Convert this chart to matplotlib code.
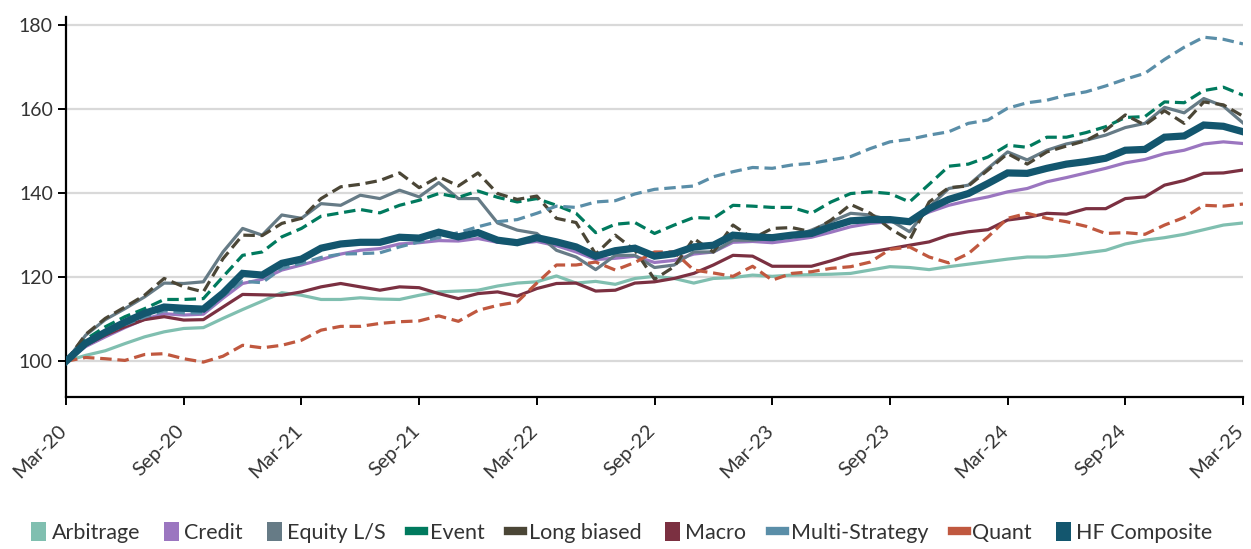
import matplotlib.pyplot as plt
import matplotlib.transforms as mtransforms
import numpy as np
import pandas as pd
from matplotlib.patches import Patch
from matplotlib.lines import Line2D

plt.rcParams['font.family'] = ['Lato', 'DejaVu Sans']

# monthly index levels, Mar-20 = 100
months = pd.date_range('2020-03-01', periods=61, freq='MS')

arbitrage = [100, 101.4, 102.5, 104.2, 105.8, 107.0, 107.8, 108.0, 110.2, 112.3, 114.3, 116.3, 115.7, 114.7, 114.7,
             115.1, 114.8, 114.7, 115.7, 116.5, 116.7, 116.9, 117.9, 118.6, 118.9, 120.3, 118.6, 119.0, 118.3, 119.7,
             120.2, 119.7, 118.6, 119.7, 119.9, 120.5, 120.2, 120.5, 120.6, 120.7, 120.9, 121.7, 122.5, 122.3, 121.8,
             122.5, 123.1, 123.7, 124.3, 124.8, 124.8, 125.2, 125.8, 126.4, 127.9, 128.8, 129.4, 130.2, 131.3, 132.4,
             132.9]
credit = [100, 103.5, 105.8, 108.0, 110.0, 111.3, 111.0, 111.2, 115.0, 118.5, 119.5, 121.7, 122.9, 124.2, 125.5,
          126.4, 126.8, 127.9, 128.2, 128.7, 128.6, 129.2, 128.3, 128.0, 128.5, 127.5, 126.0, 124.2, 124.5, 125.0,
          123.5, 124.0, 125.5, 126.0, 128.3, 128.5, 128.2, 128.8, 129.5, 130.7, 132.0, 132.8, 133.2, 133.6, 135.5,
          137.1, 138.2, 139.1, 140.3, 141.1, 142.7, 143.7, 144.8, 145.9, 147.2, 148.0, 149.4, 150.2, 151.7, 152.2,
          151.8]
equity_ls = [100, 106.2, 109.9, 112.5, 115.3, 118.6, 118.5, 118.9, 126.0, 131.6, 130.0, 134.8, 134.0, 137.5, 137.1,
             139.5, 138.7, 140.7, 139.1, 142.5, 138.7, 138.7, 132.9, 131.2, 130.4, 126.4, 124.8, 121.8, 125.2, 125.2,
             122.3, 122.9, 126.0, 126.0, 128.8, 128.8, 129.2, 129.6, 131.2, 133.2, 135.2, 134.8, 133.6, 130.8, 136.7,
             141.1, 141.9, 145.9, 149.8, 147.9, 150.2, 151.7, 152.6, 153.8, 155.6, 156.6, 160.4, 159.1, 162.5, 160.7,
             156.7]
event = [100, 105.2, 108.2, 110.6, 112.5, 114.7, 114.7, 114.9, 120.1, 125.2, 126.0, 129.6, 131.6, 134.5, 135.3,
         136.1, 135.3, 137.1, 138.3, 139.9, 139.0, 140.5, 139.0, 137.9, 138.7, 137.1, 135.2, 130.6, 132.6, 133.0,
         130.4, 132.4, 134.2, 134.0, 137.1, 136.9, 136.6, 136.6, 135.2, 137.9, 139.9, 140.3, 139.9, 137.9, 142.1,
         146.4, 146.9, 148.6, 151.4, 150.9, 153.3, 153.3, 154.4, 155.8, 158.0, 158.2, 161.7, 161.5, 164.4, 165.2,
         163.3]
long_biased = [100, 106.4, 110.2, 112.9, 115.7, 119.7, 117.7, 116.5, 124.4, 130.0, 129.9, 132.8, 134.0, 138.7, 141.5,
               142.1, 143.0, 144.8, 141.3, 143.9, 141.7, 144.8, 139.9, 138.5, 139.3, 134.0, 133.0, 125.5, 130.0, 126.4,
               119.5, 122.5, 129.2, 126.0, 132.4, 129.2, 131.6, 131.8, 130.8, 133.6, 137.3, 135.2, 131.6, 128.8, 137.9,
               141.3, 141.7, 145.5, 149.4, 146.9, 149.8, 151.2, 152.5, 155.0, 158.6, 156.2, 159.6, 156.6, 161.7, 161.0,
               158.3]
macro = [100, 103.8, 106.2, 108.2, 109.9, 110.6, 109.8, 109.9, 112.9, 115.9, 115.8, 115.7, 116.5, 117.7, 118.5,
         117.7, 116.9, 117.7, 117.5, 116.1, 114.9, 116.1, 116.5, 115.5, 117.3, 118.5, 118.6, 116.7, 116.9, 118.6,
         118.9, 119.7, 120.9, 122.9, 125.2, 125.0, 122.6, 122.6, 122.6, 123.9, 125.4, 126.0, 126.8, 127.6, 128.4,
         130.0, 130.8, 131.3, 133.6, 134.2, 135.2, 135.0, 136.3, 136.3, 138.7, 139.1, 141.9, 143.0, 144.7, 144.8,
         145.5]
multi_strategy = [100, 104.0, 106.5, 108.7, 110.5, 112.0, 111.5, 111.5, 115.5, 119.0, 118.7, 122.1, 123.3, 124.7, 125.5,
                  125.6, 125.8, 127.2, 128.4, 129.4, 130.6, 132.0, 133.2, 133.7, 135.2, 136.9, 136.6, 137.9, 138.2, 139.8,
                  140.9, 141.3, 141.7, 143.9, 145.1, 146.1, 145.9, 146.7, 147.1, 147.9, 148.7, 150.6, 152.2, 152.8, 153.8,
                  154.6, 156.6, 157.4, 160.2, 161.5, 162.1, 163.3, 164.1, 165.5, 167.1, 168.5, 171.8, 174.7, 177.1, 176.6,
                  175.5]
quant = [100, 100.9, 100.6, 100.2, 101.6, 101.8, 100.6, 99.8, 101.2, 103.8, 103.2, 103.8, 105.0, 107.4, 108.3,
         108.3, 109.0, 109.4, 109.6, 110.8, 109.5, 112.1, 113.3, 114.1, 118.6, 122.9, 122.9, 123.6, 121.7, 123.5,
         126.0, 126.0, 121.7, 121.0, 120.2, 122.6, 119.3, 120.9, 121.3, 122.1, 122.5, 123.6, 126.6, 127.2, 124.8,
         123.4, 125.6, 129.6, 134.0, 135.2, 134.0, 133.2, 132.1, 130.4, 130.6, 130.2, 132.4, 134.2, 137.1, 136.9,
         137.4]
hf_composite = [100, 104.3, 106.9, 109.3, 111.4, 112.9, 112.6, 112.4, 116.2, 120.9, 120.5, 123.3, 124.3, 126.9, 127.9,
                128.3, 128.3, 129.5, 129.3, 130.7, 129.6, 130.6, 128.8, 128.2, 129.4, 128.4, 127.2, 125.0, 126.3, 126.9,
                125.0, 125.6, 127.2, 127.6, 130.0, 129.6, 129.4, 130.0, 130.4, 132.0, 133.4, 133.7, 133.7, 133.2, 136.3,
                138.5, 139.9, 142.3, 144.8, 144.7, 145.9, 146.9, 147.5, 148.3, 150.2, 150.4, 153.3, 153.6, 156.2, 155.9,
                154.6]

series = [
    ('Arbitrage', arbitrage, '#80bfb0', '-'),
    ('Credit', credit, '#9b76c0', '-'),
    ('Equity L/S', equity_ls, '#667b86', '-'),
    ('Event', event, '#007a5e', '--'),
    ('Long biased', long_biased, '#4b4636', '--'),
    ('Macro', macro, '#7b3041', '-'),
    ('Multi-Strategy', multi_strategy, '#5a8ea8', '--'),
    ('Quant', quant, '#c0583f', '--'),
    ('HF Composite', hf_composite, '#13566e', '-'),
]

fig = plt.figure(figsize=(12.51, 5.49), dpi=100)
ax = fig.add_axes([0.0528, 0.2769, 0.9408, 0.6929])

x = np.arange(len(months))
handles = []
for name, vals, col, ls in series:
    if name == 'HF Composite':
        ax.plot(x, vals, color=col, lw=5.2, solid_joinstyle='miter', zorder=5)
        handles.append(Patch(facecolor=col, label=name))
    elif ls == '--':
        ax.plot(x, vals, color=col, lw=2.3, dashes=(3.6, 1.8), zorder=3)
        handles.append(Line2D([], [], color=col, lw=6, label=name))
    else:
        ax.plot(x, vals, color=col, lw=2.3, zorder=3)
        handles.append(Patch(facecolor=col, label=name))

ax.set_xlim(0, 60)
ax.set_ylim(91.5, 182)
ax.set_yticks([100, 120, 140, 160, 180])
ax.yaxis.grid(True, color='#d9d9d9', lw=1.6)
ax.set_axisbelow(True)

for s in ['top', 'right']:
    ax.spines[s].set_visible(False)
for s in ['left', 'bottom']:
    ax.spines[s].set_color('black')
    ax.spines[s].set_linewidth(1.6)
ax.tick_params(axis='both', labelsize=14, colors='black', labelcolor='#333333',
               width=1.4, length=6)
ax.tick_params(axis='x', labelsize=14.5, pad=12)

ticks = x[::6]
ax.set_xticks(ticks)
ax.set_xticklabels([months[i].strftime('%b-%y') for i in ticks], rotation=45,
                   ha='right', rotation_mode='anchor')
# nudge the slanted labels left so the last one stays inside the figure
shift = mtransforms.ScaledTranslation(-8 / 100, 0, fig.dpi_scale_trans)
for t in ax.xaxis.get_major_ticks():
    t.label1.set_transform(t.label1.get_transform() + shift)

fig.legend(handles=handles, loc='center', bbox_to_anchor=(0.497, 0.03), ncol=9, frameon=False,
           fontsize=15.5, handlelength=0.7, handleheight=1.0, handletextpad=0.25,
           columnspacing=1.1, labelcolor='#333333')

fig.savefig('out.png', dpi=100)
